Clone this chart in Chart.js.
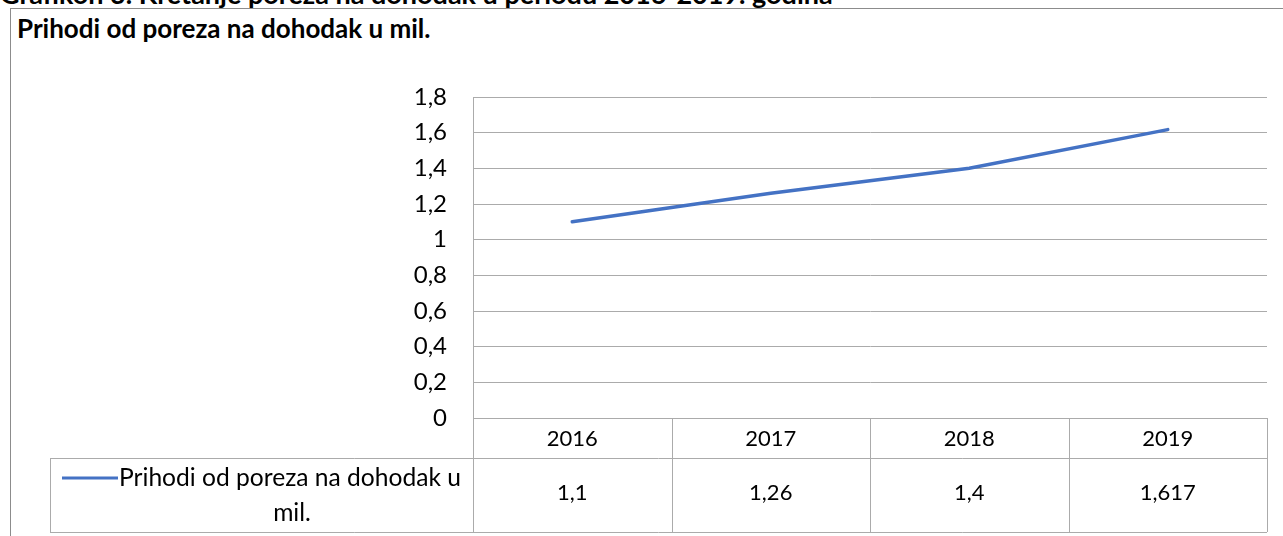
<!DOCTYPE html>
<html>
<head>
<meta charset="utf-8">
<script src="https://cdn.jsdelivr.net/npm/chart.js@4.4.0/dist/chart.umd.min.js"></script>
<style>
  body { margin: 0; background: #fff; }
  #wrap { position: relative; width: 1283px; height: 536px; overflow: hidden; }
  #box { position: absolute; left: 10px; top: 8px; width: 1300px; height: 600px;
         border-left: 1px solid #8c8c8c; border-top: 1px solid #8c8c8c; }
  .ttl { position: absolute; font-family: Lato, sans-serif; font-weight: bold;
         font-size: 26px; line-height: 26px; white-space: nowrap; color: #000; }
  #myChart { position: absolute; left: 0; top: 0; }
</style>
</head>
<body>
<div id="wrap">
  <div class="ttl" style="left:0px; top:-19px; font-size:27px;">Grafikon 3. Kretanje poreza na dohodak u periodu 2016-2019. godina</div>
  <div id="box"></div>
  <div class="ttl" style="left:17px; top:15px;">Prihodi od poreza na dohodak u mil.</div>
  <canvas id="myChart" width="1283" height="536"></canvas>
</div>
<script>
years = ["2016", "2017", "2018", "2019"]
income = [1.1, 1.26, 1.4, 1.617]
seriesName = "Prihodi od poreza na dohodak u mil."
legendLines = ["Prihodi od poreza na dohodak u", "mil."]

lineColor = "#4472C4"
gridColor = "#ababab"

function fmt(v) {
  return v.toString().replace(".", ",")
}

// data table under the plot, drawn from the x scale
let tablePlugin = {
  id: "dataTable",
  afterDraw(chart) {
    let c = chart.ctx
    let xs = chart.scales.x
    let top = chart.chartArea.bottom
    let mid = top + 40
    let bot = top + 114
    let colW = (xs.right - xs.left) / years.length
    let legLeft = 50

    c.save()
    c.strokeStyle = gridColor
    c.lineWidth = 1
    c.beginPath()
    c.moveTo(xs.left, top + 0.5); c.lineTo(xs.right, top + 0.5)
    c.moveTo(legLeft, mid + 0.5); c.lineTo(xs.right, mid + 0.5)
    c.moveTo(legLeft, bot + 0.5); c.lineTo(xs.right, bot + 0.5)
    for (i = 0; i <= years.length; i++) {
      let x = Math.round(xs.left + i * colW) + 0.5
      c.moveTo(x, top); c.lineTo(x, bot)
    }
    c.moveTo(legLeft + 0.5, mid); c.lineTo(legLeft + 0.5, bot)
    c.stroke()

    c.fillStyle = "#000"
    c.font = "22px Lato"
    c.textAlign = "center"
    c.textBaseline = "alphabetic"
    for (i = 0; i < years.length; i++) {
      let x = xs.getPixelForValue(i)
      c.fillText(years[i], x, top + 28)
      c.fillText(fmt(income[i]), x, mid + 42)
    }

    // legend key + wrapped series name
    c.strokeStyle = lineColor
    c.lineWidth = 3
    c.beginPath()
    c.moveTo(62, mid + 20); c.lineTo(118, mid + 20)
    c.stroke()
    c.font = "24.6px Lato"
    c.textAlign = "left"
    c.fillText(legendLines[0], 119, mid + 28)
    c.textAlign = "center"
    c.fillText(legendLines[1], 292, mid + 63)
    c.restore()
  }
}

let ctx = document.getElementById("myChart")
new Chart(ctx, {
  type: "line",
  data: {
    labels: years,
    datasets: [{
      label: seriesName,
      data: income,
      borderColor: lineColor,
      borderWidth: 3.5,
      borderCapStyle: "round",
      pointRadius: 0,
      tension: 0
    }]
  },
  options: {
    responsive: false,
    animation: false,
    devicePixelRatio: 1,
    layout: { padding: { top: 97, bottom: 118, right: 16, left: 0 } },
    plugins: { legend: { display: false }, title: { display: false }, tooltip: { enabled: false } },
    scales: {
      x: { display: false, offset: true },
      y: {
        min: 0, max: 1.8,
        afterFit(scale) { scale.width = 473 },
        border: { display: true, color: gridColor },
        grid: { color: gridColor, drawTicks: false },
        ticks: {
          stepSize: 0.2,
          padding: 26,
          color: "#000",
          font: { family: "Lato", size: 24 },
          callback: v => fmt(parseFloat(v.toFixed(1)))
        }
      }
    }
  },
  plugins: [tablePlugin]
})
</script>
</body>
</html>
